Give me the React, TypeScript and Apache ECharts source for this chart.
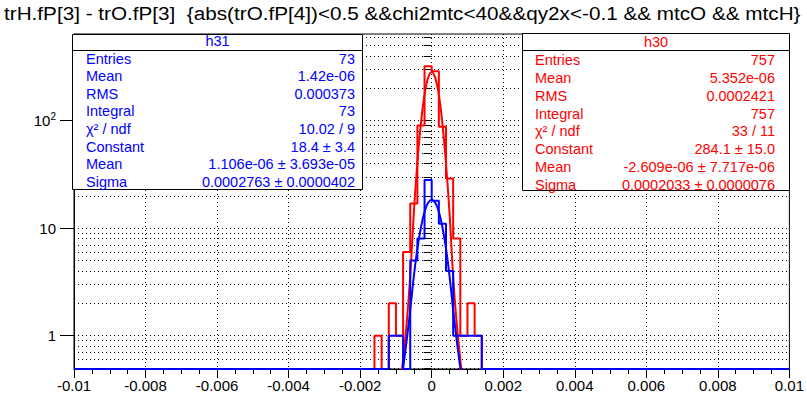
import React, { useEffect, useRef } from 'react';
import * as echarts from 'echarts';

const TITLE = 'trH.fP[3] - trO.fP[3]  {abs(trO.fP[4])<0.5 &&chi2mtc<40&&qy2x<-0.1 && mtcO && mtcH}';

const X_MIN = -0.01;
const X_MAX = 0.01;
const X_STEP = 0.002;
const BIN_WIDTH = 0.0002;
const FIRST_BIN_EDGE = -0.0016;
// bins from -0.0016 to 0.0014 (0.0002 wide); all other bins are empty
const H30_COUNTS = [1, 0, 2, 1, 6, 17, 90, 320, 288, 88, 29, 8, 1, 2, 1];
const H31_COUNTS = [0, 0, 1, 1, 0, 5, 8, 28, 18, 11, 4, 1, 1, 1, 1];

// fitted gaussian curves, sampled
const FIT_X = [-0.001, -0.0009, -0.0008, -0.0007, -0.0006, -0.0005, -0.0004, -0.0003, -0.0002, -0.0001, 0, 0.0001, 0.0002, 0.0003, 0.0004, 0.0005, 0.0006, 0.0007, 0.0008, 0.0009, 0.001];
const H30_FIT = [0.1, 0.28, 0.6, 1.3, 3.6, 13.8, 41, 95, 175, 251, 284, 250, 174, 94, 40, 13.6, 3.5, 1.3, 0.6, 0.28, 0.1];
const H31_FIT = [0.12, 0.28, 0.5, 0.9, 1.74, 3.57, 6.45, 10.2, 14.2, 17.2, 18.4, 17.2, 14.2, 10.2, 6.45, 3.57, 1.74, 0.9, 0.5, 0.28, 0.12];

const Y_MIN = 0.49;
const Y_MAX = 640;
const Y_MAJOR = [1, 10, 100];
const Y_ALL = [0.5, 0.6, 0.7, 0.8, 0.9, 1, 2, 3, 4, 5, 6, 7, 8, 9, 10, 20, 30, 40, 50, 60, 70, 80, 90, 100, 200, 300, 400, 500, 600];

const H31_NAME = 'h31';
const H31_ROWS = [
  ['Entries', '73'],
  ['Mean', '1.42e-06'],
  ['RMS', '0.000373'],
  ['Integral', '73'],
  ['χ² / ndf', '10.02 / 9'],
  ['Constant', '18.4 ± 3.4'],
  ['Mean', '1.106e-06 ± 3.693e-05'],
  ['Sigma', '0.0002763 ± 0.0000402'],
];
const H30_NAME = 'h30';
const H30_ROWS = [
  ['Entries', '757'],
  ['Mean', '5.352e-06'],
  ['RMS', '0.0002421'],
  ['Integral', '757'],
  ['χ² / ndf', '33 / 11'],
  ['Constant', '284.1 ± 15.0'],
  ['Mean', '-2.609e-06 ± 7.717e-06'],
  ['Sigma', '0.0002033 ± 0.0000076'],
];

const RED = '#ff0000';
const BLUE = '#0000ff';
const FONT = '"Liberation Sans", Arial, Helvetica, sans-serif';

function histData(counts: number[]) {
  const n = Math.round((X_MAX - X_MIN) / BIN_WIDTH);
  const pts: [number, number][] = [];
  let last = Y_MIN;
  for (let i = 0; i < n; i++) {
    const edge = X_MIN + i * BIN_WIDTH;
    const j = Math.round((edge - FIRST_BIN_EDGE) / BIN_WIDTH);
    const c = j >= 0 && j < counts.length ? counts[j] : 0;
    last = c > 0 ? c : Y_MIN;
    pts.push([edge, last]);
  }
  pts.push([X_MAX, last]);
  return pts;
}

function fitData(ys: number[]) {
  return FIT_X.map((x, i) => [x, ys[i]]);
}

function statBox(name: string, rows: string[][], color: string, x0: number, y0: number, x1: number, y1: number, headerY: number, lineY: number, labelX: number, valueX: number, rowY0: number, rowStep: number) {
  const Z = 100;
  const fs = 14.5;
  const children: any[] = [
    {
      type: 'rect', z: Z,
      shape: { x: x0, y: y0, width: x1 - x0, height: y1 - y0 },
      style: { fill: '#fff', stroke: '#000', lineWidth: 1 },
    },
    {
      type: 'line', z: Z + 1,
      shape: { x1: x0, y1: lineY, x2: x1, y2: lineY },
      style: { stroke: '#000', lineWidth: 1 },
    },
    {
      type: 'text', z: Z + 1,
      x: (x0 + x1) / 2,
      y: headerY,
      style: { text: name, fill: color, fontSize: fs, fontFamily: FONT, align: 'center', verticalAlign: 'middle' },
    },
  ];
  rows.forEach((r, i) => {
    const y = rowY0 + i * rowStep;
    children.push({
      type: 'text', x: labelX, y, z: Z + 1,
      style: { text: r[0], fill: color, fontSize: fs, fontFamily: FONT, align: 'left', verticalAlign: 'middle' },
    });
    children.push({
      type: 'text', x: valueX, y, z: Z + 1,
      style: { text: r[1], fill: color, fontSize: fs, fontFamily: FONT, align: 'right', verticalAlign: 'middle' },
    });
  });
  return { type: 'group', z: Z, children };
}

export default function App() {
  const ref = useRef<HTMLDivElement>(null);
  useEffect(() => {
    const chart = echarts.init(ref.current!, null, { renderer: 'svg' });
    const dotted = { type: [1, 3] as any, color: '#000', width: 1 };
    chart.setOption({
      animation: false,
      backgroundColor: '#fff',
      grid: {
        left: 74, right: 15, top: 34, bottom: 28,
        show: true, borderColor: '#000', borderWidth: 1, backgroundColor: 'transparent',
      },
      xAxis: {
        type: 'value', min: X_MIN, max: X_MAX, interval: X_STEP,
        axisLine: { show: true, onZero: false, lineStyle: { color: '#000', width: 1 } },
        axisTick: { show: true, inside: false, length: 9, lineStyle: { color: '#000' } },
        minorTick: { show: true, splitNumber: 4, length: 5, lineStyle: { color: '#000' } },
        splitLine: { show: true, lineStyle: dotted },
        axisLabel: {
          color: '#000', fontSize: 15, fontFamily: FONT, margin: 9,
          formatter: (v: number) => (Math.abs(v) < 1e-12 ? '0' : String(Number(v.toFixed(4)))),
        },
      },
      yAxis: [
        {
          type: 'log', logBase: 10, min: Y_MIN, max: Y_MAX, position: 'left',
          axisLine: { show: true, onZero: false, lineStyle: { color: '#000', width: 1 } },
          axisTick: { show: true, inside: false, length: 14, customValues: Y_MAJOR, lineStyle: { color: '#000' } },
          axisLabel: {
            customValues: Y_MAJOR, margin: 18, color: '#000', fontSize: 15, fontFamily: FONT,
            formatter: (v: number) => (Math.abs(v - 100) < 1e-6 ? '{m|10}{s|2}' : String(Math.round(v))),
            rich: {
              m: { fontSize: 15, fontFamily: FONT, color: '#000' },
              s: { fontSize: 10, fontFamily: FONT, color: '#000', verticalAlign: 'top', padding: [0, 0, 8, 0] },
            },
          },
          splitLine: { show: false },
        },
        {
          type: 'log', logBase: 10, min: Y_MIN, max: Y_MAX, position: 'left',
          axisLine: { show: false },
          axisTick: { show: true, inside: false, length: 8, customValues: Y_ALL, lineStyle: { color: '#000' } },
          axisLabel: { show: false },
          splitLine: { show: true, lineStyle: dotted },
        },
      ],
      series: [
        {
          name: H30_NAME, type: 'line', step: 'end', data: histData(H30_COUNTS), showSymbol: false, symbol: 'none',
          lineStyle: { color: RED, width: 2 }, clip: true, z: 3,
        },
        {
          name: H30_NAME + ' fit', type: 'line', smooth: 0.4, data: fitData(H30_FIT), showSymbol: false, symbol: 'none',
          lineStyle: { color: RED, width: 2 }, clip: true, z: 4,
        },
        {
          name: H31_NAME, type: 'line', step: 'end', data: histData(H31_COUNTS), showSymbol: false, symbol: 'none',
          lineStyle: { color: BLUE, width: 2 }, clip: true, z: 5,
        },
        {
          name: H31_NAME + ' fit', type: 'line', smooth: 0.4, data: fitData(H31_FIT), showSymbol: false, symbol: 'none',
          lineStyle: { color: BLUE, width: 2 }, clip: true, z: 6,
        },
      ],
      graphic: [
        {
          type: 'text', x: 4, y: 4, z: 100, scaleX: 1.09,
          style: { text: TITLE, fill: '#000', fontSize: 19, fontFamily: FONT, align: 'left', verticalAlign: 'top' },
        },
        statBox(H31_NAME, H31_ROWS, BLUE, 72.5, 34.5, 362.5, 189.5, 41, 50.5, 86, 355, 58.5, 17.6),
        statBox(H30_NAME, H30_ROWS, RED, 522.5, 33.5, 789.5, 190.5, 42, 50.5, 535, 775, 60, 17.85),
      ],
    });
    return () => chart.dispose();
  }, []);
  return <div ref={ref} style={{ position: 'fixed', left: 0, top: 0, width: 807, height: 397 }} />;
}
